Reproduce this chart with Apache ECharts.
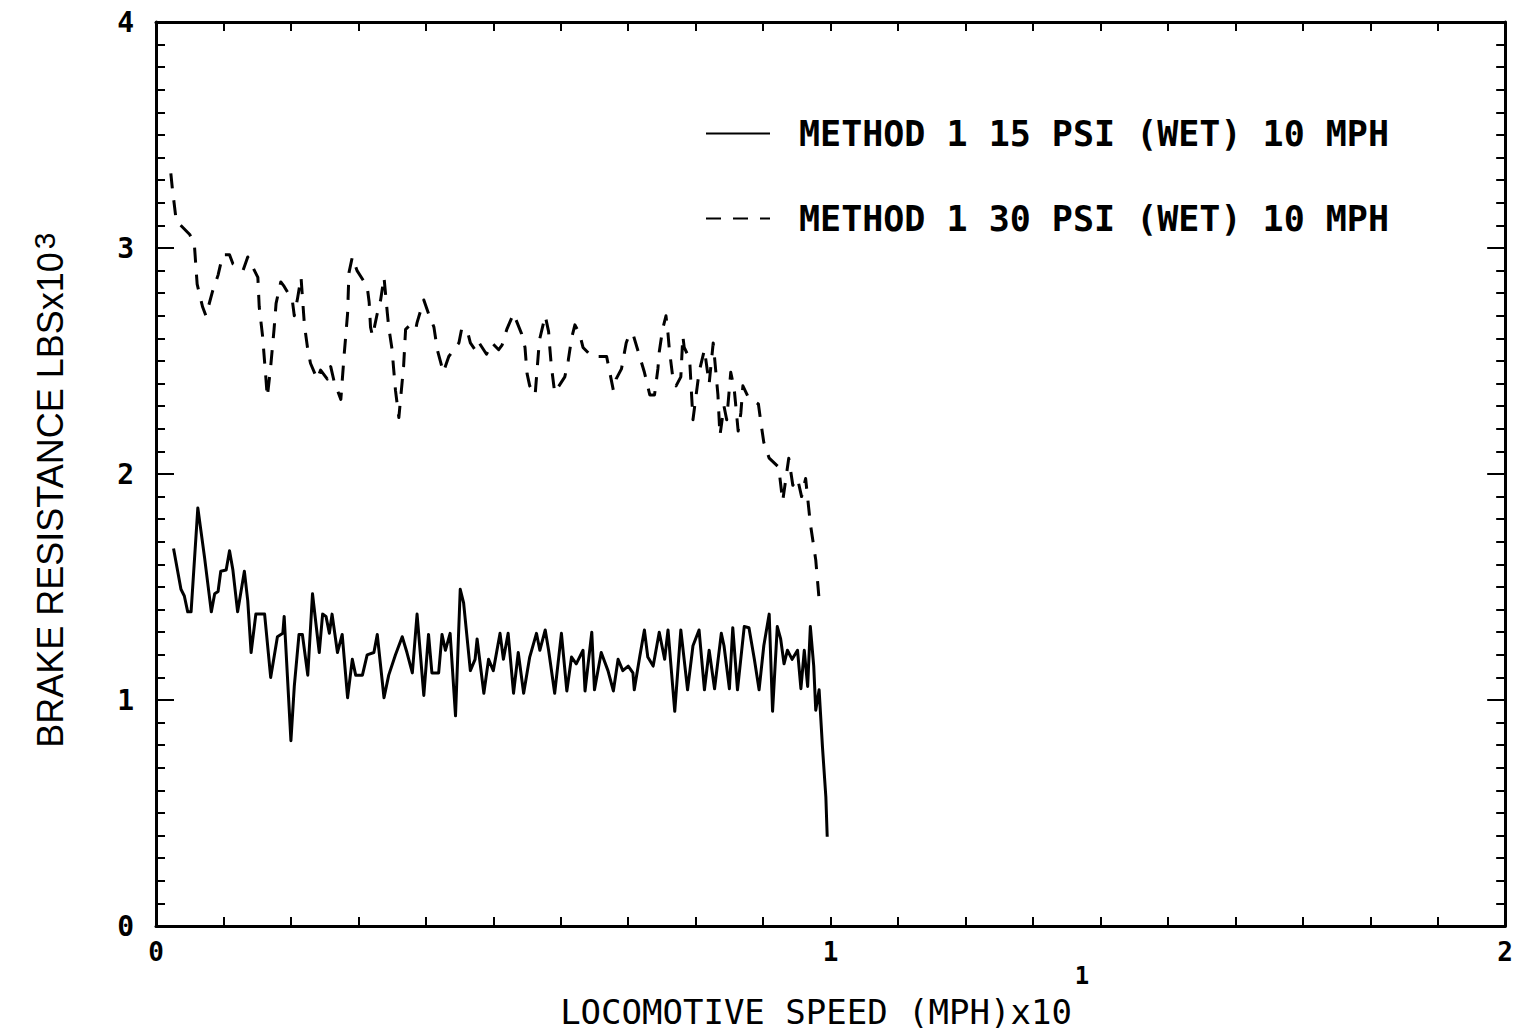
<!DOCTYPE html>
<html>
<head>
<meta charset="utf-8">
<script src="https://cdn.jsdelivr.net/npm/echarts@6/dist/echarts.min.js"></script>
<style>
html,body{margin:0;padding:0;background:#fff;}
#chart{width:1516px;height:1034px;}
</style>
</head>
<body>
<div id="chart"></div>
<script>
// ---- data ----
const seriesNames = ['METHOD 1 15 PSI (WET) 10 MPH', 'METHOD 1 30 PSI (WET) 10 MPH'];
const xTickLabels = ['0', '1', '2'];
const yTickLabels = ['0', '1', '2', '3', '4'];

// 15 PSI (solid)
const speed15 = [0.026,0.037,0.042,0.047,0.052,0.062,0.072,0.082,0.087,0.092,0.096,0.104,0.109,0.114,0.121,0.131,0.136,0.141,0.148,0.161,0.170,0.180,0.188,0.190,0.200,0.205,0.212,0.217,0.225,0.232,0.242,0.247,0.252,0.257,0.261,0.269,0.276,0.284,0.291,0.296,0.306,0.313,0.323,0.328,0.338,0.345,0.355,0.365,0.372,0.380,0.387,0.397,0.404,0.409,0.419,0.424,0.429,0.436,0.444,0.451,0.456,0.466,0.473,0.476,0.486,0.493,0.500,0.510,0.515,0.522,0.530,0.537,0.545,0.554,0.564,0.569,0.577,0.582,0.591,0.601,0.609,0.616,0.623,0.633,0.636,0.646,0.650,0.660,0.670,0.678,0.685,0.692,0.700,0.707,0.709,0.717,0.724,0.729,0.737,0.746,0.754,0.759,0.769,0.778,0.788,0.796,0.805,0.813,0.820,0.828,0.838,0.842,0.850,0.855,0.862,0.872,0.879,0.887,0.894,0.901,0.909,0.914,0.921,0.926,0.931,0.936,0.943,0.951,0.956,0.961,0.966,0.970,0.975,0.978,0.983,0.988,0.993,0.995];
const resist15 = [1.67,1.49,1.46,1.39,1.39,1.85,1.63,1.39,1.47,1.48,1.57,1.575,1.66,1.575,1.39,1.57,1.44,1.21,1.38,1.38,1.10,1.28,1.295,1.37,0.82,1.06,1.29,1.29,1.11,1.47,1.21,1.38,1.37,1.295,1.38,1.21,1.29,1.01,1.18,1.11,1.11,1.20,1.21,1.29,1.01,1.11,1.20,1.28,1.21,1.12,1.38,1.02,1.29,1.12,1.12,1.29,1.22,1.295,0.93,1.49,1.43,1.13,1.18,1.27,1.03,1.18,1.13,1.295,1.18,1.295,1.03,1.21,1.03,1.19,1.295,1.22,1.31,1.22,1.03,1.295,1.04,1.19,1.16,1.22,1.04,1.30,1.045,1.21,1.13,1.04,1.18,1.13,1.15,1.12,1.045,1.19,1.31,1.19,1.15,1.30,1.18,1.31,0.95,1.31,1.045,1.24,1.31,1.045,1.22,1.05,1.295,1.24,1.05,1.32,1.045,1.325,1.32,1.18,1.045,1.24,1.38,0.95,1.325,1.27,1.16,1.22,1.18,1.22,1.05,1.22,1.06,1.325,1.15,0.955,1.045,0.79,0.57,0.395];

// 30 PSI (dashed)
const speed30 = [0.022,0.024,0.030,0.050,0.057,0.061,0.069,0.074,0.084,0.092,0.099,0.109,0.114,0.129,0.136,0.151,0.153,0.158,0.163,0.165,0.170,0.175,0.178,0.185,0.190,0.202,0.205,0.210,0.215,0.220,0.225,0.229,0.239,0.244,0.254,0.259,0.264,0.274,0.279,0.284,0.286,0.291,0.298,0.313,0.316,0.318,0.321,0.328,0.333,0.338,0.343,0.345,0.350,0.352,0.355,0.360,0.367,0.370,0.377,0.385,0.387,0.394,0.397,0.404,0.412,0.417,0.426,0.434,0.449,0.453,0.461,0.466,0.473,0.478,0.490,0.498,0.508,0.513,0.520,0.530,0.542,0.547,0.550,0.554,0.562,0.567,0.569,0.577,0.582,0.584,0.586,0.591,0.606,0.611,0.616,0.621,0.628,0.633,0.646,0.668,0.678,0.682,0.690,0.697,0.702,0.707,0.717,0.724,0.732,0.739,0.744,0.746,0.751,0.756,0.759,0.761,0.766,0.771,0.778,0.781,0.783,0.791,0.796,0.805,0.813,0.820,0.826,0.833,0.836,0.842,0.846,0.852,0.857,0.863,0.867,0.870,0.878,0.893,0.897,0.901,0.909,0.923,0.929,0.938,0.944,0.951,0.957,0.963,0.970,0.978,0.984];
const resist30 = [3.33,3.27,3.12,3.06,3.01,2.84,2.74,2.70,2.81,2.88,2.97,2.97,2.93,2.90,2.96,2.87,2.74,2.61,2.42,2.34,2.475,2.64,2.755,2.85,2.83,2.77,2.70,2.78,2.87,2.66,2.55,2.49,2.42,2.46,2.42,2.475,2.41,2.33,2.53,2.71,2.89,2.96,2.90,2.83,2.76,2.65,2.61,2.71,2.77,2.87,2.71,2.65,2.55,2.475,2.37,2.25,2.475,2.64,2.66,2.64,2.67,2.74,2.77,2.71,2.65,2.55,2.45,2.52,2.58,2.64,2.64,2.58,2.55,2.585,2.53,2.58,2.55,2.57,2.64,2.71,2.62,2.56,2.445,2.39,2.35,2.54,2.60,2.70,2.63,2.55,2.48,2.36,2.43,2.50,2.60,2.66,2.62,2.56,2.52,2.52,2.37,2.42,2.465,2.58,2.62,2.62,2.52,2.45,2.35,2.35,2.465,2.54,2.64,2.70,2.62,2.55,2.43,2.39,2.43,2.61,2.56,2.51,2.24,2.45,2.55,2.40,2.58,2.35,2.17,2.30,2.24,2.45,2.38,2.19,2.27,2.39,2.34,2.31,2.22,2.14,2.07,2.03,1.88,2.07,1.95,1.98,1.90,1.98,1.78,1.62,1.41];

const pairs = (xs, ys) => xs.map((x, i) => [x, ys[i]]);

const FONT_MONO = '"DejaVu Sans Mono", "Liberation Mono", monospace';
const FONT_SANS = '"Liberation Sans", Arial, sans-serif';

const axisLineStyle = { color: '#000', width: 3 };
const tickLine = { color: '#000', width: 2 };

function xAx(pos, showLabel) {
  return {
    type: 'value', position: pos, min: 0, max: 2, interval: 1,
    axisLine: { show: true, onZero: false, lineStyle: axisLineStyle },
    axisTick: { show: true, inside: true, length: 9, lineStyle: tickLine },
    minorTick: { show: true, splitNumber: 10, length: 9, lineStyle: tickLine },
    splitLine: { show: false }, minorSplitLine: { show: false },
    axisLabel: {
      show: showLabel, margin: 13, color: '#000',
      fontFamily: FONT_MONO, fontWeight: 'bold', fontSize: 26,
      formatter: v => xTickLabels[Math.round(v)]
    }
  };
}
function yAx(pos, showLabel) {
  return {
    type: 'value', position: pos, min: 0, max: 4, interval: 1,
    axisLine: { show: true, onZero: false, lineStyle: axisLineStyle },
    axisTick: { show: true, inside: true, length: 18, lineStyle: tickLine },
    minorTick: { show: true, splitNumber: 10, length: 9, lineStyle: tickLine },
    splitLine: { show: false }, minorSplitLine: { show: false },
    axisLabel: {
      show: showLabel, margin: 22, color: '#000',
      fontFamily: FONT_MONO, fontWeight: 'bold', fontSize: 28,
      formatter: v => yTickLabels[Math.round(v)]
    }
  };
}

const chart = echarts.init(document.getElementById('chart'), null, { renderer: 'svg' });
chart.setOption({
  animation: false,
  backgroundColor: '#fff',
  grid: { left: 156, right: 6, top: 22, bottom: 108, containLabel: false },
  xAxis: [xAx('bottom', true), xAx('top', false)],
  yAxis: [yAx('left', true), yAx('right', false)],
  legend: {
    orient: 'vertical', left: 700, top: 111,
    itemWidth: 64, itemHeight: 14, itemGap: 50,
    selectedMode: false,
    itemStyle: { color: 'rgba(0,0,0,0)', borderColor: 'rgba(0,0,0,0)', borderWidth: 0 },
    textStyle: { fontFamily: FONT_MONO, fontWeight: 'bold', fontSize: 35, color: '#000', padding: [0, 0, 0, 24] },
    data: seriesNames
  },
  series: [
    {
      name: seriesNames[0], type: 'line', xAxisIndex: 0, yAxisIndex: 0,
      symbol: 'none', showSymbol: false,
      lineStyle: { color: '#000', width: 3, join: 'round' },
      itemStyle: { color: '#000' },
      data: pairs(speed15, resist15)
    },
    {
      name: seriesNames[1], type: 'line', xAxisIndex: 0, yAxisIndex: 0,
      symbol: 'none', showSymbol: false,
      lineStyle: { color: '#000', width: 3, type: [15, 12], join: 'round' },
      itemStyle: { color: '#000' },
      data: pairs(speed30, resist30)
    }
  ],
  graphic: [
    { type: 'text', x: 816, y: 1012, style: { text: 'LOCOMOTIVE SPEED (MPH)x10', align: 'center', verticalAlign: 'middle', fill: '#000', font: 'normal 34px ' + FONT_MONO } },
    { type: 'text', x: 1082, y: 976, style: { text: '1', align: 'center', verticalAlign: 'middle', fill: '#000', font: 'bold 24px ' + FONT_MONO } },
    { type: 'text', x: 50, y: 500, rotation: Math.PI / 2, style: { text: 'BRAKE RESISTANCE LBSx10', align: 'center', verticalAlign: 'middle', fill: '#000', font: 'normal 36px ' + FONT_SANS } },
    { type: 'text', x: 44, y: 241, rotation: Math.PI / 2, style: { text: '3', align: 'center', verticalAlign: 'middle', fill: '#000', font: 'normal 30px ' + FONT_SANS } }
  ]
});
</script>
</body>
</html>
